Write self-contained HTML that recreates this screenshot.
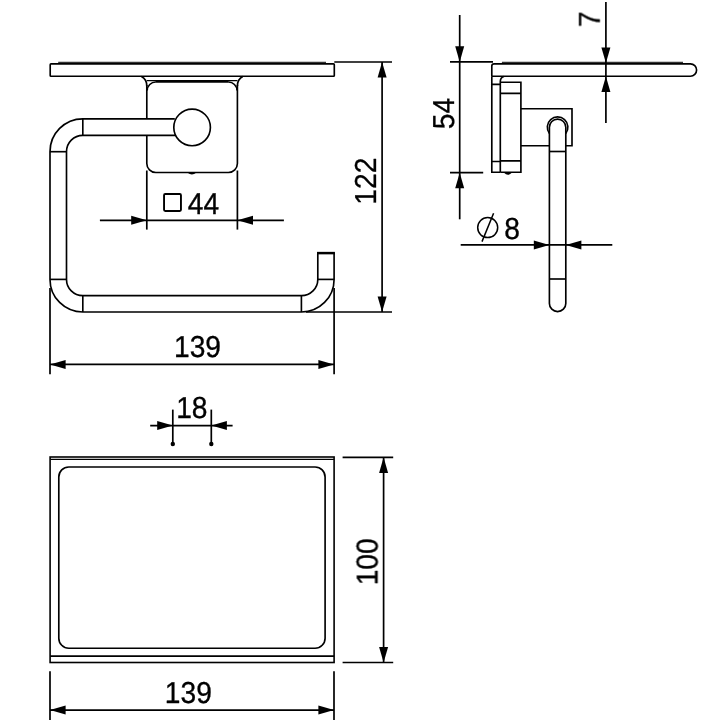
<!DOCTYPE html>
<html lang="en">
<head>
<meta charset="utf-8">
<title>Drawing</title>
<style>
html,body{margin:0;padding:0;background:#fff;}
body{width:707px;height:720px;overflow:hidden;}
svg{display:block;}
text{font-family:"Liberation Sans","DejaVu Sans",sans-serif;fill:#000;}
</style>
</head>
<body>
<svg width="707" height="720" viewBox="0 0 707 720">
<rect x="0" y="0" width="707" height="720" fill="#fff" stroke="none"/>
<g fill="none" stroke="#000" stroke-width="1.65" stroke-linecap="butt" stroke-linejoin="miter">
<rect x="50.2" y="63.9" width="284.1" height="12.3" rx="0.8"/>
<line x1="58.20" y1="62.40" x2="326.00" y2="62.40" stroke-width="1.4" stroke="#333"/>
<path d="M141.4 76.4 Q146.8 79 146.8 86 M242.8 76.4 Q237.4 79 237.4 86"/>
<line x1="146.80" y1="80.70" x2="237.40" y2="80.70" stroke-width="1.3"/>
<path d="M146.8 85 V118.8 M146.8 135.3 V163.5 A9 9 0 0 0 155.8 172.5 H228.4 A9 9 0 0 0 237.4 163.5 V85"/>
<path d="M147.2 90.6 A8.6 8.6 0 0 1 155.8 82 M228.4 82 A8.6 8.6 0 0 1 237 90.6"/>
<line x1="155.60" y1="81.50" x2="228.60" y2="81.50" stroke-width="2.7"/>
<path d="M187.6 172.8 Q191.9 176.4 196.2 172.8 Z" fill="#000" stroke="none"/>
<circle cx="192.1" cy="127.4" r="18.3"/>
<path d="M174.8 118.8 H82.8 A32.80 32.90 0 0 0 50.0 151.7 V279.4 A32.80 32.60 0 0 0 82.8 312.0 H301.4 A32.70 32.60 0 0 0 334.1 279.4 V253.2 H317.8 V279.4 A16.40 16.20 0 0 1 301.4 295.6 H82.8 A16.30 16.20 0 0 1 66.5 279.4 V151.7 A16.30 16.40 0 0 1 82.8 135.3 H175.8"/>
<line x1="82.80" y1="118.80" x2="82.80" y2="135.30"/>
<line x1="50.00" y1="151.70" x2="66.50" y2="151.70"/>
<line x1="50.00" y1="279.40" x2="66.50" y2="279.40"/>
<line x1="82.80" y1="295.60" x2="82.80" y2="312.00"/>
<line x1="301.40" y1="295.60" x2="301.40" y2="312.00"/>
<line x1="317.80" y1="279.40" x2="334.10" y2="279.40"/>
<line x1="317.00" y1="253.10" x2="334.90" y2="253.10" stroke-width="2.5"/>
<rect x="164.05" y="194.05" width="16.9" height="16.9" rx="1.2" stroke-width="1.9"/>
<path d="M491.8 76.2 V66.1 A2.3 2.3 0 0 1 494.1 63.8 H690.4 A6.2 6.2 0 0 1 690.4 76.2 H491.8"/>
<line x1="501.90" y1="62.40" x2="683.00" y2="62.40" stroke-width="1.4" stroke="#333"/>
<path d="M491.8 76.2 V172.2 H500.3 M504 76.5 Q500.3 77.5 500.3 81.5 V172.2 M491.8 84.3 H500.3 M491.8 161.5 H500.3"/>
<path d="M500.3 82.2 H520.9 V172.2 H500.3 M500.3 93.3 H520.9 M500.3 160.8 H520.9"/>
<path d="M504 172.8 Q507.9 176.6 511.8 172.8 Z" fill="#000" stroke="none"/>
<path d="M520.9 108.7 H572 V145.7 H565.8 M549.4 145.7 H520.9"/>
<path d="M549.4 127.3 A8.2 8.2 0 0 1 565.8 127.3 V303.4 A8.2 8.2 0 0 1 549.4 303.4 Z"/>
<path d="M549.4 133.4 A10.3 10.3 0 1 1 565.8 133.4" stroke-width="1.6"/>
<line x1="549.40" y1="151.50" x2="565.80" y2="151.50"/>
<line x1="549.40" y1="279.00" x2="565.80" y2="279.00"/>
<circle cx="487.7" cy="227.6" r="10" stroke-width="1.5"/>
<line x1="482.00" y1="241.60" x2="493.60" y2="213.20" stroke-width="1.5"/>
<rect x="50.1" y="457.0" width="284" height="205.5" stroke-width="1.6"/>
<line x1="50.20" y1="459.30" x2="334.10" y2="459.30" stroke-width="1.3"/>
<line x1="50.30" y1="656.10" x2="334.10" y2="656.10"/>
<rect x="58.8" y="467" width="266.3" height="181.2" rx="10" ry="10"/>
</g>
<g fill="none" stroke="#000" stroke-width="1.7">
<line x1="146.80" y1="170.50" x2="146.80" y2="229.60"/>
<line x1="237.40" y1="170.50" x2="237.40" y2="229.60"/>
<line x1="99.90" y1="220.30" x2="283.90" y2="220.30"/>
<line x1="334.30" y1="62.00" x2="392.00" y2="62.00"/>
<line x1="306.00" y1="312.00" x2="392.00" y2="312.00"/>
<line x1="382.10" y1="62.00" x2="382.10" y2="312.00"/>
<line x1="50.00" y1="288.00" x2="50.00" y2="374.30"/>
<line x1="334.10" y1="288.00" x2="334.10" y2="374.30"/>
<line x1="50.00" y1="364.40" x2="334.00" y2="364.40"/>
<line x1="450.00" y1="61.90" x2="493.00" y2="61.90"/>
<line x1="450.00" y1="172.70" x2="483.20" y2="172.70"/>
<line x1="459.70" y1="15.00" x2="459.70" y2="219.30"/>
<line x1="605.90" y1="2.00" x2="605.90" y2="123.00"/>
<line x1="460.70" y1="244.90" x2="612.30" y2="244.90"/>
<line x1="172.80" y1="409.60" x2="172.80" y2="443.50"/>
<line x1="211.30" y1="409.60" x2="211.30" y2="443.50"/>
<line x1="150.20" y1="425.60" x2="232.60" y2="425.60"/>
<line x1="342.60" y1="457.30" x2="393.20" y2="457.30"/>
<line x1="342.60" y1="662.50" x2="393.20" y2="662.50"/>
<line x1="383.60" y1="457.30" x2="383.60" y2="662.50"/>
<line x1="50.00" y1="671.30" x2="50.00" y2="720.00"/>
<line x1="334.00" y1="671.30" x2="334.00" y2="720.00"/>
<line x1="50.00" y1="710.10" x2="334.00" y2="710.10"/>
</g>
<g fill="#000" stroke="none">
<polygon points="146.80,220.30 131.20,215.80 131.20,224.80"/>
<polygon points="237.40,220.30 253.00,215.80 253.00,224.80"/>
<polygon points="382.10,62.00 377.60,77.60 386.60,77.60"/>
<polygon points="382.10,312.00 377.60,296.40 386.60,296.40"/>
<polygon points="50.00,364.40 65.60,359.90 65.60,368.90"/>
<polygon points="334.00,364.40 318.40,359.90 318.40,368.90"/>
<polygon points="459.70,61.90 455.20,46.30 464.20,46.30"/>
<polygon points="459.70,172.70 455.20,188.30 464.20,188.30"/>
<polygon points="605.90,63.00 601.40,47.40 610.40,47.40"/>
<polygon points="605.90,76.30 601.40,91.90 610.40,91.90"/>
<polygon points="549.40,244.90 533.80,240.40 533.80,249.40"/>
<polygon points="565.80,244.90 581.40,240.40 581.40,249.40"/>
<polygon points="172.80,425.60 157.20,421.10 157.20,430.10"/>
<polygon points="211.30,425.60 226.90,421.10 226.90,430.10"/>
<circle cx="172.8" cy="444" r="2.2"/>
<circle cx="211.3" cy="444" r="2.2"/>
<polygon points="383.60,457.30 379.10,472.90 388.10,472.90"/>
<polygon points="383.60,662.50 379.10,646.90 388.10,646.90"/>
<polygon points="50.00,710.10 65.60,705.60 65.60,714.60"/>
<polygon points="334.00,710.10 318.40,705.60 318.40,714.60"/>
</g>
<g opacity="0.999" stroke="#000" stroke-width="0.35" stroke-linejoin="round" text-rendering="geometricPrecision">
<text transform="translate(197.50 357.30) scale(0.9300 1)" font-size="30.30" text-anchor="middle">139</text>
<text transform="translate(203.40 213.90) scale(0.9300 1)" font-size="30.30" text-anchor="middle">44</text>
<text transform="translate(191.80 417.60) scale(0.9300 1)" font-size="30.30" text-anchor="middle">18</text>
<text transform="translate(375.50 181.20) rotate(-90) scale(0.9300 1)" font-size="30.30" text-anchor="middle">122</text>
<text transform="translate(377.50 561.80) rotate(-90) scale(0.9300 1)" font-size="30.30" text-anchor="middle">100</text>
<text transform="translate(453.80 113.60) rotate(-90) scale(0.9300 1)" font-size="30.30" text-anchor="middle">54</text>
<text transform="translate(599.70 19.20) rotate(-90) scale(0.9300 1)" font-size="30.30" text-anchor="middle">7</text>
<text transform="translate(512.20 238.80) scale(0.9300 1)" font-size="30.30" text-anchor="middle">8</text>
<text transform="translate(188.30 703.30) scale(0.9300 1)" font-size="30.30" text-anchor="middle">139</text>
</g>
</svg>
</body>
</html>
